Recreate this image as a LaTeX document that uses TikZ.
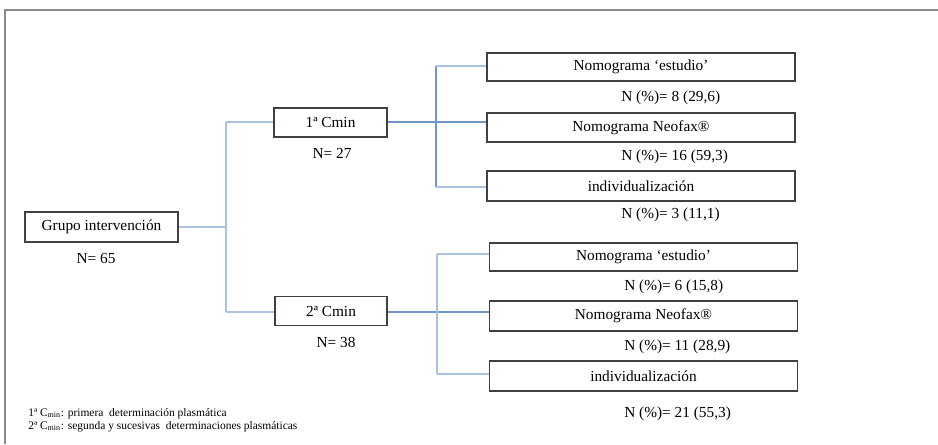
\documentclass[tikz,border=0pt]{standalone}
\usepackage{fontspec}
\setmainfont{Liberation Serif}
\definecolor{lightln}{HTML}{A9C2E2}
\definecolor{midln}{HTML}{7097C7}
\definecolor{boxln}{HTML}{404040}
\definecolor{frameln}{HTML}{8A8A8A}
\tikzset{
  box/.style={draw=boxln, line width=0.8pt, inner sep=0pt, minimum height=21.75pt,
    font=\fontsize{11.5}{13}\selectfont},
  wbox/.style={box, minimum width=231pt},
  lbl/.style={inner sep=0pt, font=\fontsize{11.5}{13}\selectfont},
  note/.style={inner sep=0pt, anchor=base west, font=\fontsize{8.6}{9}\selectfont},
  lline/.style={draw=lightln, line width=1.2pt},
  mline/.style={draw=midln, line width=0.8pt},
}
\begin{document}
\begin{tikzpicture}[x=0.75pt, y=-0.75pt]
\useasboundingbox (0,0) rectangle (938,444);
% frame
\draw[frameln, line width=1.2pt] (938,10) -- (5,10) -- (5,444);

% main nodes
\node[box, minimum width=114.75pt, minimum height=22.5pt] (g) at (101.5,227) {Grupo intervención};
\node[lbl] (gn) at (96,258) {N= 65};
\node[box, minimum width=84.75pt] (c1) at (330.5,122.5) {1ª Cmin};
\node[lbl] (c1n) at (332,153) {N= 27};
\node[box, minimum width=84pt] (c2) at (331,311) {2ª Cmin};
\node[lbl] (c2n) at (336,342) {N= 38};

% top group
\node[wbox, minimum height=21pt] (a1) at (641,67) {Nomograma ‘estudio’};
\node[lbl, anchor=west] (a1n) at (621,98) {N (\%)= 8 (29,6)};
\node[wbox] (a2) at (641,127.5) {Nomograma Neofax®};
\node[lbl, anchor=west] (a2n) at (621,157) {N (\%)= 16 (59,3)};
\node[wbox, minimum height=22.5pt] (a3) at (641,186) {individualización};
\node[lbl, anchor=west] (a3n) at (621,215) {N (\%)= 3 (11,1)};

% bottom group
\node[wbox, minimum height=21pt] (b1) at (643.5,257) {Nomograma ‘estudio’};
\node[lbl, anchor=west] (b1n) at (624,287) {N (\%)= 6 (15,8)};
\node[wbox, minimum height=22.5pt] (b2) at (643.5,316) {Nomograma Neofax®};
\node[lbl, anchor=west] (b2n) at (624,347) {N (\%)= 11 (28,9)};
\node[wbox, minimum height=22.5pt] (b3) at (643.5,376) {individualización};
\node[lbl, anchor=west] (b3n) at (624,414) {N (\%)= 21 (55,3)};

% junction coordinates
\coordinate (j0) at (226,227);
\coordinate (j0t) at (226,122);
\coordinate (j0b) at (226,312);
\coordinate (j1) at (436,122);
\coordinate (j1t) at (436,66);
\coordinate (j1b) at (436,187);
\coordinate (j2) at (437,312);
\coordinate (j2t) at (437,254);
\coordinate (j2b) at (437,374);

% left tree
\draw[lline] (g.east |- j0) -- (j0);
\draw[lline] (j0t) -- (j0b);
\draw[lline] (j0t) -- (j0t -| c1.west);
\draw[lline] (j0b) -- (j0b -| c2.west);

% upper right tree
\draw[mline] (c1.east |- j1) -- (j1 -| a2.west);
\draw[mline] (j1t) -- (j1b);
\draw[lline] (j1t) -- (j1t -| a1.west);
\draw[lline] (j1b) -- (j1b -| a3.west);

% lower right tree
\draw[mline] (c2.east |- j2) -- (j2 -| b2.west);
\draw[lline] (j2t) -- (j2b);
\draw[lline] (j2t) -- (j2t -| b1.west);
\draw[lline] (j2b) -- (j2b -| b3.west);

% footnotes
\node[note] (f1) at (28,416) {1ª C\textsubscript{min}: primera\ \ determinación plasmática};
\node[note] (f2) at (28,429) {2ª C\textsubscript{min}: segunda y sucesivas\ \ determinaciones plasmáticas};
\end{tikzpicture}
\end{document}
